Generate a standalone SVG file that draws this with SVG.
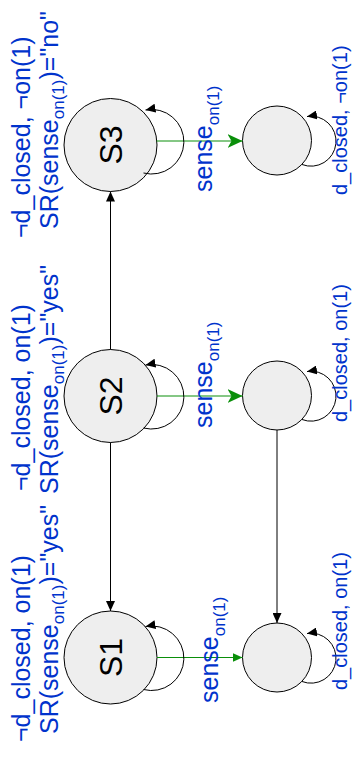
<svg xmlns="http://www.w3.org/2000/svg" width="353" height="757" viewBox="0 0 353 757">
<style>
.st{fill:#eeeeee;stroke:#000;stroke-width:1}
.sl{font-family:"Liberation Sans",Arial,sans-serif;font-size:32px;fill:#000}
.lb{font-family:"Liberation Sans",Arial,sans-serif;font-size:25px;fill:#0033cc}
.rl{font-family:"Liberation Sans",Arial,sans-serif;font-size:20px;fill:#0033cc}
.e{fill:none;stroke:#000;stroke-width:1}
.g{fill:none;stroke:#0a8f0a;stroke-width:1}
.sub{font-size:17px}
</style>
<defs>
<marker id="blk" markerUnits="userSpaceOnUse" markerWidth="10" markerHeight="9" refX="10" refY="4.5" orient="auto">
<path d="M0,0 L10,4.5 L0,9 z" fill="#000"/>
</marker>
<marker id="gbig" markerUnits="userSpaceOnUse" markerWidth="15" markerHeight="14" refX="15" refY="7" orient="auto">
<path d="M0,0 L15,7 L0,14 L4,7 z" fill="#0a8f0a"/>
</marker>
<marker id="gsm" markerUnits="userSpaceOnUse" markerWidth="10" markerHeight="9" refX="10" refY="4.5" orient="auto">
<path d="M0,0 L10,4.5 L0,9 z" fill="#0a8f0a"/>
</marker>
</defs>

<g id="S3">
<circle class="st" cx="110.5" cy="145" r="46.5"/>
<text class="sl" text-anchor="middle" transform="translate(122,145) rotate(-90)">S3</text>
</g>
<g id="S2">
<circle class="st" cx="110.5" cy="396" r="46.5"/>
<text class="sl" text-anchor="middle" transform="translate(122,396) rotate(-90)">S2</text>
</g>
<g id="S1">
<circle class="st" cx="110.5" cy="657.5" r="46.5"/>
<text class="sl" text-anchor="middle" transform="translate(122,657.5) rotate(-90)">S1</text>
</g>
<g id="R3"><circle class="st" cx="277" cy="140.5" r="34.5"/></g>
<g id="R2"><circle class="st" cx="277" cy="395.5" r="34.5"/></g>
<g id="R1"><circle class="st" cx="277" cy="657.5" r="34.5"/></g>

<g id="connectors">
<path class="e" d="M110.5,349.5 L110.5,191.5" marker-end="url(#blk)"/>
<path class="e" d="M110.5,442.5 L110.5,611" marker-end="url(#blk)"/>
<path class="e" d="M277,430 L277,623" marker-end="url(#blk)"/>
<path class="g" d="M156.5,141 L242.5,141" marker-end="url(#gbig)"/>
<path class="g" d="M157,396 L242.5,396" marker-end="url(#gbig)"/>
<path class="g" d="M157,657.5 L242.5,657.5" marker-end="url(#gsm)"/>
<path class="e" d="M143.5,173 A32.3,32.3 0 1 0 145.5,110" marker-end="url(#blk)"/>
<path class="e" d="M143.5,428 A32.3,32.3 0 1 0 145.5,365" marker-end="url(#blk)"/>
<path class="e" d="M143.5,689.5 A32.3,32.3 0 1 0 145.5,626.5" marker-end="url(#blk)"/>
<path class="e" d="M302,164.5 A25,25 0 1 0 307,116.5" marker-end="url(#blk)"/>
<path class="e" d="M302,419.5 A25,25 0 1 0 307,371.5" marker-end="url(#blk)"/>
<path class="e" d="M302,681.5 A25,25 0 1 0 307,633.5" marker-end="url(#blk)"/>
</g>

<g id="labels">
<text class="lb" transform="translate(30,238) rotate(-90)">¬d_closed, ¬on(1)</text>
<text class="lb" transform="translate(58,229) rotate(-90)">SR(sense<tspan class="sub" dy="6">on(1)</tspan><tspan dy="-6">)="no"</tspan></text>
<text class="lb" transform="translate(30,491) rotate(-90)">¬d_closed, on(1)</text>
<text class="lb" transform="translate(58,494) rotate(-90)">SR(sense<tspan class="sub" dy="6">on(1)</tspan><tspan dy="-6">)="yes"</tspan></text>
<text class="lb" transform="translate(30,742) rotate(-90)">¬d_closed, on(1)</text>
<text class="lb" transform="translate(58,734) rotate(-90)">SR(sense<tspan class="sub" dy="6">on(1)</tspan><tspan dy="-6">)="yes"</tspan></text>
<text class="lb" transform="translate(212,192) rotate(-90)">sense<tspan class="sub" dy="7">on(1)</tspan></text>
<text class="lb" transform="translate(212,428) rotate(-90)">sense<tspan class="sub" dy="7">on(1)</tspan></text>
<text class="lb" transform="translate(218,703) rotate(-90)">sense<tspan class="sub" dy="7">on(1)</tspan></text>
<text class="rl" transform="translate(347,195) rotate(-90)">d_closed, ¬on(1)</text>
<text class="rl" transform="translate(347,422) rotate(-90)">d_closed, on(1)</text>
<text class="rl" transform="translate(347,690) rotate(-90)">d_closed, on(1)</text>
</g>
</svg>
